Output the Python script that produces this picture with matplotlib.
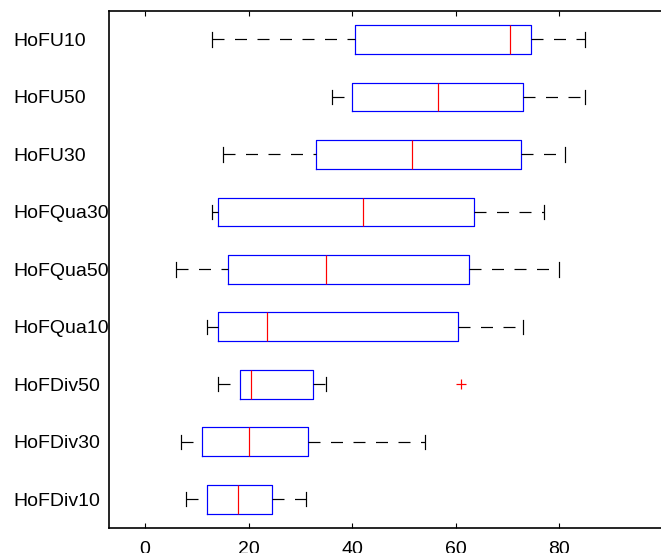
import matplotlib
matplotlib.use("Agg")
import matplotlib.pyplot as plt

plt.rcParams["font.family"] = ["Liberation Sans", "DejaVu Sans"]
plt.rcParams["lines.scale_dashes"] = False

# Groups listed bottom to top
labels = ["HoFDiv10", "HoFDiv30", "HoFDiv50", "HoFQua10", "HoFQua50",
          "HoFQua30", "HoFU30", "HoFU50", "HoFU10"]
whislo = [8.0, 7.0, 14.0, 12.0, 6.0, 13.0, 15.0, 36.0, 13.0]
q1 = [12.0, 11.0, 18.4, 14.0, 16.0, 14.0, 33.0, 40.0, 40.5]
med = [18.0, 20.0, 20.5, 23.5, 35.0, 42.0, 51.5, 56.5, 70.5]
q3 = [24.5, 31.5, 32.5, 60.5, 62.5, 63.5, 72.5, 73.0, 74.5]
whishi = [31.0, 54.0, 35.0, 73.0, 80.0, 77.0, 81.0, 85.0, 85.0]
outliers = [[], [], [61.0], [], [], [], [], [], []]

stats = []
for i, lab in enumerate(labels):
    stats.append(dict(label=lab, med=med[i], q1=q1[i], q3=q3[i],
                      whislo=whislo[i], whishi=whishi[i], fliers=outliers[i]))

W, H, DPI = 661, 553, 100
fig = plt.figure(figsize=(W / DPI, H / DPI), dpi=DPI)
left_px, right_px, top_px, bottom_px = 109.3, 663.0, 10.7, 528.0
ax = fig.add_axes([left_px / W, (H - bottom_px) / H,
                   (right_px - left_px) / W, (bottom_px - top_px) / H])

px = 72 / DPI
lw = 1.2 * px
positions = list(range(1, len(labels) + 1))
res = ax.bxp(stats, positions=positions, widths=0.5, orientation="horizontal",
             boxprops=dict(color="blue", linewidth=lw),
             medianprops=dict(color="red", linewidth=lw),
             whiskerprops=dict(color="black", linewidth=lw,
                               linestyle=(0, (12 * px, 10.5 * px))),
             capprops=dict(color="black", linewidth=lw),
             flierprops=dict(marker="+", markeredgecolor="red",
                             markersize=10 * px, markeredgewidth=lw,
                             linestyle="none"),
             showfliers=True)

# lower whiskers run from the cap toward the box
for k, wl in enumerate(res["whiskers"]):
    if k % 2 == 0:
        wl.set_xdata(wl.get_xdata()[::-1])
        wl.set_ydata(wl.get_ydata()[::-1])

ax.set_xlim(-6.9, 100.0)
ax.set_ylim(0.5, 9.5)
ax.set_xticks([0, 20, 40, 60, 80])
ax.set_yticks(positions)
ax.set_yticklabels(labels)
for t in ax.get_yticklabels():
    t.set_horizontalalignment("left")

ax.tick_params(axis="x", direction="in", length=5 * px, width=0.8,
               top=True, labelsize=14, pad=9.5)
ax.tick_params(axis="y", length=0, labelsize=14, pad=(left_px - 13) * px)
for sp in ax.spines.values():
    sp.set_linewidth(1.2)

fig.savefig("out.png", dpi=DPI)
